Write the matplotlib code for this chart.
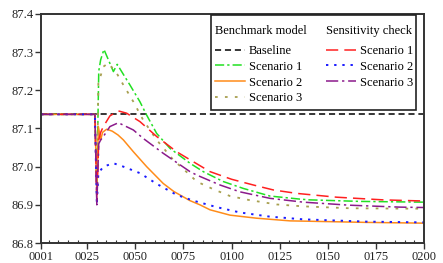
import matplotlib
matplotlib.use("Agg")
import matplotlib.pyplot as plt
from matplotlib.patches import Rectangle
from matplotlib.ticker import MultipleLocator, FixedLocator

plt.rcParams['font.family'] = ['Liberation Serif', 'DejaVu Serif']
plt.rcParams['font.size'] = 9

# values (period, level)
base_level = 87.137

t_bench1 = [1, 28, 29, 30, 31, 32, 33.7, 36, 38.6, 40.6, 44, 47.2, 52.4, 55.9, 61.1, 68, 78.4, 85.3, 95.7, 106.1, 120, 135.5, 140.7, 166.7, 200]
v_bench1 = [87.137, 87.137, 87.137, 86.95, 87.25, 87.28, 87.307, 87.28, 87.249, 87.268, 87.24, 87.214, 87.170, 87.135, 87.087, 87.048, 87.009, 86.987, 86.961, 86.943, 86.923, 86.915, 86.913, 86.909, 86.907]

t_bench2 = [1, 28, 29, 30, 30.8, 32, 33, 35.1, 38, 41, 43.8, 49, 55.9, 64.5, 70, 74.9, 78.4, 83.6, 88.8, 99.2, 113, 130.4, 140.7, 170.2, 200]
v_bench2 = [87.137, 87.137, 87.137, 86.93, 87.105, 87.07, 87.09, 87.098, 87.093, 87.083, 87.070, 87.039, 87.0, 86.956, 86.935, 86.921, 86.911, 86.900, 86.887, 86.873, 86.865, 86.858, 86.857, 86.854, 86.852]

t_bench3 = [1, 28, 29, 30, 30.8, 33.4, 36, 40.3, 43.8, 49, 54.1, 61.1, 69.7, 78.4, 81.9, 90.5, 99.2, 108.7, 123.4, 137.3, 161.5, 192.7, 200]
v_bench3 = [87.137, 87.137, 87.137, 86.92, 87.218, 87.262, 87.271, 87.245, 87.214, 87.170, 87.122, 87.070, 87.018, 86.978, 86.961, 86.941, 86.923, 86.913, 86.901, 86.896, 86.891, 86.890, 86.890]

t_sens1 = [1, 28, 29, 30, 31, 32, 33.4, 36.8, 41.2, 45.5, 52.4, 61.1, 71.5, 80.1, 88.8, 100, 111.3, 121.7, 133.8, 154.6, 178.8, 200]
v_sens1 = [87.137, 87.137, 87.137, 86.91, 87.07, 87.09, 87.105, 87.133, 87.146, 87.140, 87.118, 87.079, 87.039, 87.013, 86.987, 86.967, 86.952, 86.939, 86.930, 86.920, 86.913, 86.910]

t_sens2 = [1, 28, 29, 30, 30.8, 33.4, 38.6, 43.8, 52.4, 61.1, 71.5, 80.1, 92.3, 104.4, 120, 137.3, 170.2, 200]
v_sens2 = [87.137, 87.137, 87.137, 86.90, 86.983, 87.0, 87.009, 87.0, 86.983, 86.955, 86.926, 86.911, 86.894, 86.880, 86.869, 86.862, 86.856, 86.854]

t_sens3 = [1, 28, 29, 30, 31, 32, 33.4, 36.8, 41.2, 49, 54.1, 64.5, 78.4, 81.9, 94, 104.4, 120, 137.3, 161.5, 187.5, 200]
v_sens3 = [87.137, 87.137, 87.137, 86.90, 87.06, 87.07, 87.079, 87.105, 87.115, 87.096, 87.074, 87.035, 86.987, 86.978, 86.952, 86.934, 86.917, 86.907, 86.899, 86.894, 86.893]

xticks = [1, 25, 50, 75, 100, 125, 150, 175, 200]
xtick_labels = ["0001", "0025", "0050", "0075", "0100", "0125", "0150", "0175", "0200"]

fig = plt.figure(figsize=(4.43, 2.63), dpi=100)
ax = fig.add_axes([0.0926, 0.076, 0.8644, 0.871])

h_base, = ax.plot([1, 200], [base_level, base_level], color='black', ls=(0, (4, 2.5)), lw=1.1, label='Baseline')
h_b1, = ax.plot(t_bench1, v_bench1, color='#22e022', ls=(0, (6, 2, 1.5, 2)), lw=1.1, label='Scenario 1')
h_b2, = ax.plot(t_bench2, v_bench2, color='#ff8c1a', ls='-', lw=1.1, label='Scenario 2')
h_b3, = ax.plot(t_bench3, v_bench3, color='#a8a050', ls=(0, (1.5, 4)), lw=1.3, label='Scenario 3')
h_s1, = ax.plot(t_sens1, v_sens1, color='#ff2020', ls=(0, (8, 4)), lw=1.1, label='Scenario 1')
h_s2, = ax.plot(t_sens2, v_sens2, color='#1a1aff', ls=(0, (1.2, 3)), lw=1.4, label='Scenario 2')
h_s3, = ax.plot(t_sens3, v_sens3, color='#8b1a8b', ls=(0, (8, 2.5, 1.5, 2.5)), lw=1.1, label='Scenario 3')

ax.set_xlim(1, 200)
ax.set_ylim(86.8, 87.4)
ax.xaxis.set_major_locator(FixedLocator(xticks))
ax.set_xticklabels(xtick_labels)
ax.xaxis.set_minor_locator(MultipleLocator(5))
ax.yaxis.set_major_locator(MultipleLocator(0.1))
ax.tick_params(axis='both', which='major', direction='out', length=4, width=1, colors='#333333', labelcolor='#222222', pad=1.5)
ax.tick_params(axis='x', which='minor', direction='in', length=2.5, width=0.8, colors='#333333')
for s in ax.spines.values():
    s.set_color('#333333')
    s.set_linewidth(1.4)

# legend frame first, then two borderless legends on top of it
ax.add_patch(Rectangle((0.4439, 0.5808), 0.5352, 0.4148, transform=ax.transAxes, clip_on=False,
                       facecolor='white', edgecolor='#222222', lw=1.2, zorder=4))

leg_kw = dict(frameon=False, alignment='left', handlelength=2.4, handletextpad=0.32,
              labelspacing=0.3, borderpad=0, borderaxespad=0, fontsize=9, title_fontsize=9)
leg1 = ax.legend(handles=[h_base, h_b1, h_b2, h_b3], title='Benchmark model', loc='upper left',
                 bbox_to_anchor=(0.4543, 0.953), **leg_kw)
ax.add_artist(leg1)
leg2 = ax.legend(handles=[h_s1, h_s2, h_s3], title='Sensitivity check', loc='upper left',
                 bbox_to_anchor=(0.744, 0.953), **leg_kw)
for leg in (leg1, leg2):
    leg._legend_box.sep = 6
    leg.set_zorder(5)

fig.savefig("out.png", dpi=100)
